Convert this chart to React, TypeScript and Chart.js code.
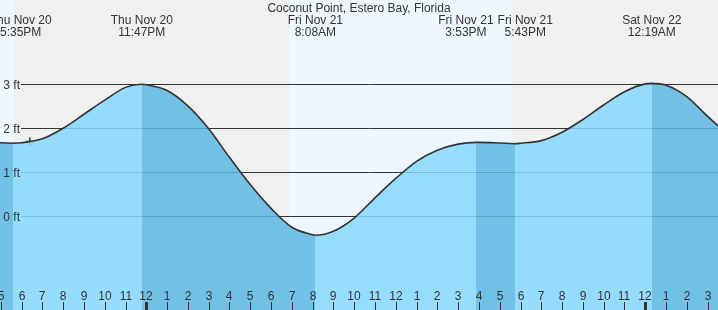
import React, { useEffect, useRef } from "react";
import { Chart, registerables } from "chart.js";

Chart.register(...registerables);

// Tide heights (ft) read hourly; hours are relative to midnight starting Fri Nov 21
const HOURS = [-8, -7, -6, -5, -4, -3, -2, -1, 0, 1, 2, 3, 4, 5, 6, 7, 8, 9, 10, 11, 12, 13, 14, 15, 16, 17, 18, 19, 20, 21, 22, 23, 24, 25, 26, 27, 28];
const HEIGHT_FT = [1.74, 1.67, 1.67, 1.76, 2.0, 2.32, 2.64, 2.93, 2.99, 2.86, 2.51, 1.99, 1.34, 0.72, 0.18, -0.25, -0.42, -0.34, -0.04, 0.42, 0.86, 1.25, 1.5, 1.64, 1.68, 1.665, 1.66, 1.72, 1.91, 2.2, 2.53, 2.83, 3.01, 2.98, 2.72, 2.27, 1.85];

// Tide events (highs / lows)
const EVENT_HOURS = [-6.417, -0.217, 8.133, 15.883, 17.717, 24.317];
const EVENT_FT = [1.66, 3.0, -0.43, 1.68, 1.65, 3.02];
const EVENT_KIND = ["low", "high", "low", "high", "low", "high"];
const EVENT_DATE = ["Thu Nov 20", "Thu Nov 20", "Fri Nov 21", "Fri Nov 21", "Fri Nov 21", "Sat Nov 22"];
const EVENT_TIME = ["5:35PM", "11:47PM", "8:08AM", "3:53PM", "5:43PM", "12:19AM"];

// Sun events
const SUN_HOURS = [-6.38, 6.87, 17.6];
const SUN_KIND = ["set", "rise", "set"];

// Current time marker
const NOW_HOUR = [-5.6];
const NOW_FT = [1.7];

const Y_TICKS = [0, 1, 2, 3];
const TITLE = "Coconut Point, Estero Bay, Florida";

const X_MIN = -7.037;
const X_MAX = 27.5;
const Y_MIN = -2.13;
const Y_MAX = 4.916;

const FONT = '12px "Liberation Sans", Arial, sans-serif';
const TEXT = "#333333";
const NIGHT = "#f0f0f0";
const DAY = "#eef7ff";
const WATER_RISING = "rgba(134,216,255,0.85)";
const WATER_FALLING = "rgba(92,184,227,0.85)";

function waterFill(ctx: any) {
  const chart = ctx.chart;
  const area = chart.chartArea;
  const x = chart.scales && chart.scales.x;
  if (!area || !x) return WATER_RISING;
  const g = chart.ctx.createLinearGradient(area.left, 0, area.right, 0);
  const w = area.right - area.left;
  const first = EVENT_KIND[0] === "low" ? WATER_FALLING : WATER_RISING;
  g.addColorStop(0, first);
  let prev = first;
  for (let i = 0; i < EVENT_HOURS.length; i++) {
    const p = Math.min(1, Math.max(0, (x.getPixelForValue(EVENT_HOURS[i]) - area.left) / w));
    const next = EVENT_KIND[i] === "low" ? WATER_RISING : WATER_FALLING;
    g.addColorStop(p, prev);
    g.addColorStop(p, next);
    prev = next;
  }
  g.addColorStop(1, prev);
  return g;
}

const skyPlugin = {
  id: "sky",
  beforeDraw(chart: any) {
    const { ctx, chartArea } = chart;
    const { left, top, right, bottom } = chartArea;
    const x = chart.scales.x;
    ctx.save();
    ctx.fillStyle = NIGHT;
    ctx.fillRect(left, top, right - left, bottom - top);
    ctx.fillStyle = DAY;
    let start: number | null = SUN_KIND[0] === "set" ? X_MIN : null;
    for (let i = 0; i < SUN_HOURS.length; i++) {
      if (SUN_KIND[i] === "rise") start = SUN_HOURS[i];
      else if (start !== null) {
        const a = x.getPixelForValue(start);
        const b = x.getPixelForValue(SUN_HOURS[i]);
        ctx.fillRect(Math.round(a), top, Math.round(b) - Math.round(a), bottom - top);
        start = null;
      }
    }
    if (start !== null) {
      const a = x.getPixelForValue(start);
      ctx.fillRect(Math.round(a), top, right - Math.round(a), bottom - top);
    }
    ctx.restore();
  },
  beforeDatasetsDraw(chart: any) {
    const { ctx, chartArea } = chart;
    const y = chart.scales.y;
    ctx.save();
    ctx.strokeStyle = TEXT;
    ctx.lineWidth = 1;
    for (const v of Y_TICKS) {
      const py = Math.round(y.getPixelForValue(v)) + 0.5;
      ctx.beginPath();
      ctx.moveTo(chartArea.left + 21, py);
      ctx.lineTo(chartArea.right, py);
      ctx.stroke();
    }
    ctx.restore();
  },
  afterDatasetsDraw(chart: any) {
    const { ctx, chartArea, width } = chart;
    const x = chart.scales.x;
    const y = chart.scales.y;
    ctx.save();
    ctx.font = FONT;
    ctx.fillStyle = TEXT;
    ctx.textBaseline = "alphabetic";

    // y labels
    ctx.textAlign = "right";
    for (const v of Y_TICKS) {
      const py = y.getPixelForValue(v);
      ctx.fillText(v + " ft", chartArea.left + 20, py + 4.3);
    }

    // hour labels and ticks
    ctx.textAlign = "center";
    for (let h = Math.ceil(X_MIN); h <= Math.floor(X_MAX); h++) {
      const hod = ((h % 24) + 24) % 24;
      const lab = hod % 12 === 0 ? 12 : hod % 12;
      const px = Math.round(x.getPixelForValue(h));
      ctx.fillText(String(lab), px, chartArea.bottom - 10);
      if (hod === 0) {
        ctx.fillRect(px - 1, chartArea.bottom - 8, 3, 8);
      } else {
        ctx.fillRect(px, chartArea.bottom - 8, 1, 8);
      }
    }

    // title
    ctx.fillText(TITLE, (chartArea.left + chartArea.right) / 2, 12);

    // event labels with simple collision avoidance
    const labels = EVENT_HOURS.map((h, i) => {
      const wd = ctx.measureText(EVENT_DATE[i]).width;
      const wt = ctx.measureText(EVENT_TIME[i]).width;
      return { cx: x.getPixelForValue(h), w: Math.max(wd, wt), wt, i };
    });
    const gap = 4;
    for (let iter = 0; iter < 5; iter++) {
      for (let k = 0; k < labels.length - 1; k++) {
        const a = labels[k];
        const b = labels[k + 1];
        const need = (a.w + b.w) / 2 + gap;
        const have = b.cx - a.cx;
        if (have < need) {
          const d = (need - have) / 2;
          a.cx -= d;
          b.cx += d;
        }
      }
    }
    for (const l of labels) {
      const cx = Math.min(width - l.wt / 2, Math.max(l.wt / 2, l.cx));
      ctx.fillText(EVENT_DATE[l.i], cx, 24);
      ctx.fillText(EVENT_TIME[l.i], cx, 36);
    }
    ctx.restore();
  },
};

export default function App() {
  const ref = useRef<HTMLCanvasElement | null>(null);
  useEffect(() => {
    document.body.style.margin = "0";
    if (!ref.current) return;
    const pts = HOURS.map((h, i) => ({ x: h, y: HEIGHT_FT[i] }))
      .concat(EVENT_HOURS.map((h, i) => ({ x: h, y: EVENT_FT[i] })))
      .sort((a, b) => a.x - b.x);
    const chart = new Chart(ref.current, {
      type: "line",
      data: {
        datasets: [
          {
            data: pts,
            borderColor: "#333333",
            borderWidth: 1.6,
            pointRadius: 0,
            pointHoverRadius: 0,
            fill: "start",
            backgroundColor: waterFill as any,
            cubicInterpolationMode: "monotone",
          },
          {
            data: NOW_HOUR.map((h, i) => ({ x: h, y: NOW_FT[i] })),
            showLine: false,
            pointStyle: "cross",
            pointRadius: 4,
            pointHoverRadius: 4,
            borderColor: "#333333",
            borderWidth: 1.5,
            fill: false,
          },
        ],
      },
      options: {
        animation: false,
        responsive: false,
        layout: { padding: 0, autoPadding: false },
        events: [],
        scales: {
          x: { type: "linear", min: X_MIN, max: X_MAX, display: false },
          y: { type: "linear", min: Y_MIN, max: Y_MAX, display: false },
        },
        plugins: { legend: { display: false }, tooltip: { enabled: false } },
      },
      plugins: [skyPlugin],
    });
    return () => chart.destroy();
  }, []);
  return (
    <div style={{ width: 718, height: 310 }}>
      <canvas ref={ref} width={718} height={310} style={{ display: "block" }} />
    </div>
  );
}
